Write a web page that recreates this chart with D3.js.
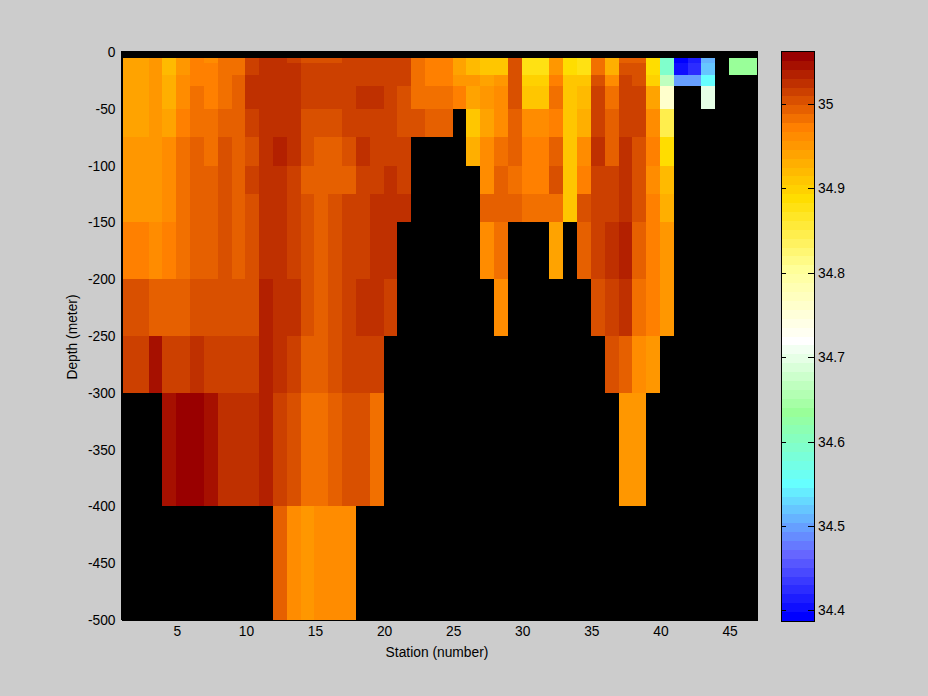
<!DOCTYPE html>
<html>
<head>
<meta charset="utf-8">
<script src="https://cdnjs.cloudflare.com/ajax/libs/d3/7.8.5/d3.min.js"></script>
<style>
html,body{margin:0;padding:0;background:#cccccc;}
svg{display:block;}
text{font-family:"Liberation Sans",Arial,sans-serif;font-size:13.8px;fill:#000;}
</style>
</head>
<body>
<svg id="chart" width="928" height="696"></svg>
<script>
const _ = null;
const depths = [0,5,10,20,30,50,75,100,125,150,200,250,300,400,500];
const stations = d3.range(1,47);
const row0 = stations.map(()=>_);
const row1 = [34.941,34.941,34.951,34.920,34.951,34.972,34.962,34.983,34.983,35.014,35.025,35.025,35.014,35.004,35.004,35.004,35.014,35.014,35.014,35.014,35.014,34.983,34.972,34.972,34.941,34.920,34.909,34.909,35.004,34.878,34.878,34.951,34.888,34.878,34.983,34.930,34.993,34.993,34.888,34.593,34.393,34.414,34.508,_,34.635,34.635];
const row2 = [34.941,34.941,34.951,34.920,34.951,34.972,34.972,34.983,34.983,35.014,35.025,35.025,35.025,35.014,35.014,35.014,35.014,35.014,35.014,35.014,35.014,34.983,34.972,34.972,34.941,34.920,34.909,34.909,35.004,34.878,34.878,34.951,34.888,34.878,34.983,34.930,35.004,35.004,34.888,34.593,34.403,34.424,34.519,_,34.635,34.635];
const row3 = [34.941,34.941,34.951,34.930,34.962,34.972,34.972,34.983,34.993,35.025,35.025,35.025,35.025,35.014,35.014,35.014,35.014,35.014,35.014,35.014,35.014,34.983,34.972,34.972,34.951,34.951,34.941,34.951,35.004,34.899,34.899,34.972,34.909,34.909,35.004,34.962,35.014,35.004,34.899,34.667,34.498,34.498,34.551,_,_,_];
const row4 = [34.941,34.941,34.951,34.930,34.962,34.983,34.972,34.983,34.993,35.025,35.025,35.025,35.025,35.014,35.014,35.014,35.014,35.025,35.025,35.014,35.004,34.983,34.983,34.983,34.972,34.941,34.951,34.962,35.004,34.909,34.909,34.983,34.909,34.920,35.014,34.983,35.014,35.014,34.941,34.762,_,_,34.698,_,_,_];
const row5 = [34.941,34.941,34.951,34.941,34.972,34.983,34.983,34.993,34.993,35.014,35.025,35.025,35.025,35.004,35.004,35.004,35.014,35.014,35.014,35.014,35.004,35.004,34.993,34.993,_,34.909,34.941,34.962,34.993,34.962,34.962,34.972,34.909,34.930,35.014,34.993,35.014,35.014,34.962,34.846,_,_,_,_,_,_];
const row6 = [34.951,34.951,34.951,34.962,34.983,34.993,34.983,35.004,34.993,35.004,35.025,35.035,35.025,35.004,34.993,34.993,35.004,35.025,35.014,35.014,35.014,_,_,_,_,34.930,34.962,34.983,34.993,34.972,34.972,34.993,34.909,34.962,35.025,34.993,35.025,35.004,34.972,34.888,_,_,_,_,_,_];
const row7 = [34.951,34.951,34.951,34.962,34.983,34.993,34.993,35.004,34.993,35.014,35.025,35.025,35.014,34.993,34.993,34.993,34.993,35.014,35.014,35.025,35.014,_,_,_,_,_,34.962,34.993,34.983,34.972,34.972,35.004,34.909,34.972,35.014,35.014,35.025,35.004,34.962,34.920,_,_,_,_,_,_];
const row8 = [34.951,34.951,34.951,34.962,34.983,34.993,34.993,35.004,34.993,35.004,35.025,35.025,35.014,35.004,34.993,35.004,35.014,35.014,35.025,35.025,35.025,_,_,_,_,_,34.993,34.993,34.993,34.983,34.983,34.983,34.909,35.004,35.014,35.014,35.025,35.004,34.972,34.930,_,_,_,_,_,_];
const row9 = [34.972,34.972,34.962,34.972,34.983,34.993,34.993,35.004,34.993,35.004,35.025,35.025,35.014,35.004,34.993,35.004,35.014,35.014,35.025,35.025,_,_,_,_,_,_,34.962,34.983,_,_,_,34.941,_,34.993,35.014,35.025,35.035,34.993,34.972,34.951,_,_,_,_,_,_];
const row10 = [35.004,35.004,34.993,34.993,34.993,35.004,35.004,35.004,35.004,35.004,35.035,35.025,35.025,35.004,34.993,35.004,35.014,35.025,35.025,35.014,_,_,_,_,_,_,_,34.962,_,_,_,_,_,_,35.004,35.014,35.025,34.983,34.972,34.951,_,_,_,_,_,_];
const row11 = [35.014,35.014,35.046,35.014,35.014,35.025,35.014,35.014,35.014,35.014,35.035,35.025,35.014,34.993,34.993,35.004,35.014,35.014,35.014,_,_,_,_,_,_,_,_,_,_,_,_,_,_,_,_,35.004,34.993,34.962,34.951,_,_,_,_,_,_,_];
const row12 = [_,_,_,35.046,35.056,35.056,35.046,35.025,35.025,35.025,35.035,35.014,35.004,34.983,34.983,34.993,35.004,35.004,34.983,_,_,_,_,_,_,_,_,_,_,_,_,_,_,_,_,_,34.951,34.951,_,_,_,_,_,_,_,_];
const row13 = [_,_,_,_,_,_,_,_,_,_,_,34.993,34.962,34.951,34.962,34.962,34.962,_,_,_,_,_,_,_,_,_,_,_,_,_,_,_,_,_,_,_,_,_,_,_,_,_,_,_,_,_];
const salinityRows = [row0,row1,row2,row3,row4,row5,row6,row7,row8,row9,row10,row11,row12,row13];
const xTicks = [5,10,15,20,25,30,35,40,45];
const yTicks = [0,-50,-100,-150,-200,-250,-300,-350,-400,-450,-500];
const barTicks = [34.4,34.5,34.6,34.7,34.8,34.9,35];
const colorStops = ["#990000","#cc4000","#ff8000","#ffdd00","#ffff99","#ffffff","#99ff99","#66ffff","#6666ff","#0000ff"];
const stopIndex = [1,5,9,17,25,33,41,49,57,64];
const salMin = 34.3875, salMax = 35.0617;

const ramp = d3.scaleLinear().domain(stopIndex).range(colorStops).interpolate(d3.interpolateRgb);
const palette = d3.range(64,0,-1).map(n=>ramp(n));
const color = d3.scaleQuantize().domain([salMin,salMax]).range(palette);

const svg = d3.select("#chart");
const x = d3.scaleLinear().domain([1,47]).range([121.5,757.2]);
const y = d3.scaleLinear().domain([0,-500]).range([52,620]);

svg.append("rect").attr("x",121).attr("y",y.range()[0]-1)
  .attr("width",637).attr("height",y.range()[1]-y.range()[0]+1).attr("fill","#000");

const cells = [];
salinityRows.forEach((r,j)=>r.forEach((v,i)=>{ if(v!==null) cells.push({s:stations[i],top:-depths[j],bot:-depths[j+1],v}); }));
svg.append("g").attr("shape-rendering","crispEdges").selectAll("rect").data(cells).join("rect")
  .attr("x",d=>Math.max(122,Math.floor(x(d.s))))
  .attr("y",d=>Math.round(y(d.top)))
  .attr("width",d=>Math.floor(x(d.s+1))-Math.max(122,Math.floor(x(d.s))))
  .attr("height",d=>Math.round(y(d.bot))-Math.round(y(d.top)))
  .attr("fill",d=>color(d.v));

const xAxis = d3.axisBottom(x).tickValues(xTicks).tickSize(0).tickPadding(7).tickFormat(d3.format("d"));
const gx = svg.append("g").attr("transform",`translate(0,${y.range()[1]-0.5})`).call(xAxis);
gx.select(".domain").attr("stroke","#000").attr("shape-rendering","crispEdges");
const yAxis = d3.axisLeft(y).tickValues(yTicks).tickSize(0).tickPadding(6).tickFormat(d=>String(d));
const gy = svg.append("g").attr("transform",`translate(121.5,0)`).call(yAxis);
gy.select(".domain").attr("stroke","#000").attr("shape-rendering","crispEdges");
gx.attr("font-size",null).attr("font-family",null);
gy.attr("font-size",null).attr("font-family",null);

svg.append("text").attr("x",437).attr("y",657).attr("text-anchor","middle").text("Station (number)");
svg.append("text").attr("transform","translate(77,337) rotate(-90)").attr("text-anchor","middle").text("Depth (meter)");

// colorbar
const barX = d3.scaleLinear().domain([0,1]).range([782,814]);
const barY = d3.scaleLinear().domain([salMin,salMax]).range([621,52]);
const bandW = (salMax-salMin)/palette.length;
svg.append("g").attr("shape-rendering","crispEdges").selectAll("rect").data(palette).join("rect")
  .attr("x",barX(0)).attr("width",barX(1)-barX(0))
  .attr("y",(d,i)=>Math.round(barY(salMin+(i+1)*bandW)))
  .attr("height",(d,i)=>Math.round(barY(salMin+i*bandW))-Math.round(barY(salMin+(i+1)*bandW)))
  .attr("fill",d=>d);
const barRight = d3.axisRight(barY).tickValues(barTicks).tickSize(-6).tickPadding(10).tickFormat(d=>String(d));
const gb = svg.append("g").attr("transform",`translate(${barX(1)},0)`).call(barRight);
gb.attr("font-size",null).attr("font-family",null);
gb.selectAll(".tick text").attr("x",4);
gb.select(".domain").remove();
gb.selectAll(".tick line").attr("stroke","#000").attr("shape-rendering","crispEdges");
const barLeft = d3.axisLeft(barY).tickValues(barTicks).tickSize(-4).tickFormat("");
const gl = svg.append("g").attr("transform",`translate(${barX(0)},0)`).call(barLeft);
gl.select(".domain").remove();
gl.selectAll(".tick line").attr("stroke","#000").attr("shape-rendering","crispEdges");
svg.append("rect").attr("x",barX(0)-0.5).attr("y",barY.range()[1]-0.5)
  .attr("width",barX(1)-barX(0)+1).attr("height",barY.range()[0]-barY.range()[1]+1)
  .attr("fill","none").attr("stroke","#000").attr("shape-rendering","crispEdges");
</script>
</body>
</html>
